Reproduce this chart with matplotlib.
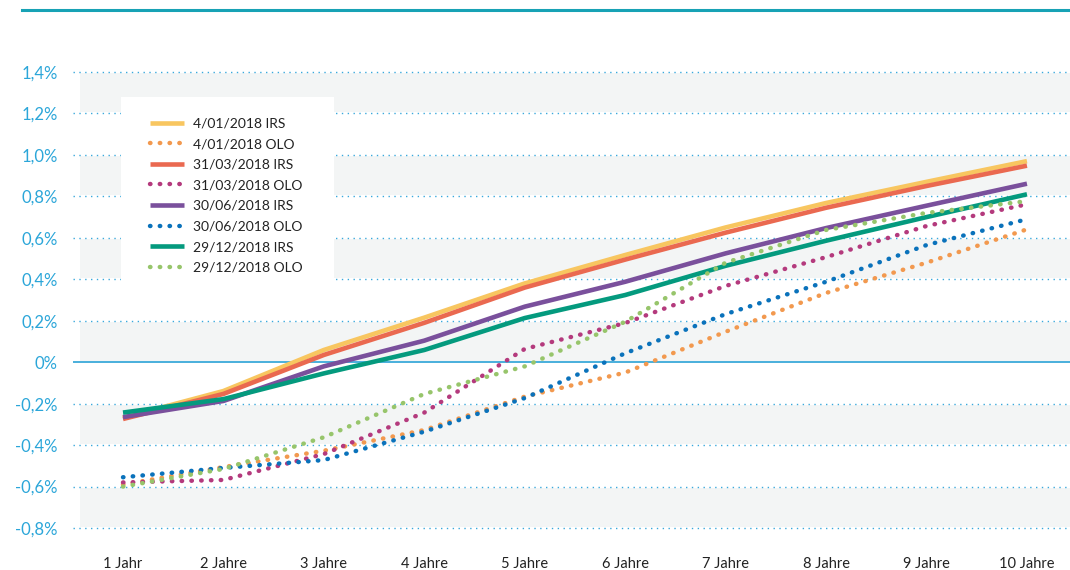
import matplotlib
matplotlib.use("Agg")
import matplotlib.pyplot as plt
from matplotlib.patches import Rectangle
from matplotlib.lines import Line2D

plt.rcParams['font.family'] = ['Lato', 'DejaVu Sans']

### DONNEES
jahre = [1, 2, 3, 4, 5, 6, 7, 8, 9, 10]
x_labels = ["1 Jahr", "2 Jahre", "3 Jahre", "4 Jahre", "5 Jahre",
            "6 Jahre", "7 Jahre", "8 Jahre", "9 Jahre", "10 Jahre"]

irs_0401 = [-0.268, -0.139, 0.059, 0.215, 0.38, 0.517, 0.65, 0.768, 0.87, 0.97]
olo_0401 = [-0.59, -0.506, -0.427, -0.327, -0.166, -0.05, 0.147, 0.334, 0.48, 0.641]
irs_3103 = [-0.274, -0.153, 0.035, 0.19, 0.36, 0.495, 0.625, 0.745, 0.85, 0.948]
olo_3103 = [-0.58, -0.568, -0.443, -0.243, 0.064, 0.189, 0.368, 0.507, 0.657, 0.762]
irs_3006 = [-0.265, -0.187, -0.02, 0.104, 0.268, 0.388, 0.525, 0.647, 0.755, 0.861]
olo_3006 = [-0.555, -0.51, -0.472, -0.335, -0.173, 0.043, 0.232, 0.388, 0.565, 0.69]
irs_2912 = [-0.243, -0.178, -0.054, 0.059, 0.213, 0.324, 0.465, 0.586, 0.70, 0.81]
olo_2912 = [-0.60, -0.515, -0.362, -0.153, -0.02, 0.195, 0.48, 0.638, 0.72, 0.777]

y_ticks = [-0.8, -0.6, -0.4, -0.2, 0, 0.2, 0.4, 0.6, 0.8, 1.0, 1.2, 1.4]
y_labels = ["-0,8%", "-0,6%", "-0,4%", "-0,2%", "0%", "0,2%", "0,4%",
            "0,6%", "0,8%", "1,0%", "1,2%", "1,4%"]
bandes = [(1.2, 1.4), (0.8, 1.0), (0.4, 0.6), (0.0, 0.2), (-0.4, -0.2), (-0.8, -0.6)]

series = [
    ("4/01/2018 IRS", irs_0401, "#f8c660", "-"),
    ("4/01/2018 OLO", olo_0401, "#f2994f", ":"),
    ("31/03/2018 IRS", irs_3103, "#ea6950", "-"),
    ("31/03/2018 OLO", olo_3103, "#b43a7d", ":"),
    ("30/06/2018 IRS", irs_3006, "#7a509c", "-"),
    ("30/06/2018 OLO", olo_3006, "#0a72bb", ":"),
    ("29/12/2018 IRS", irs_2912, "#049a7e", "-"),
    ("29/12/2018 OLO", olo_2912, "#97c56b", ":"),
]

### FIGURE
W, H = 1070, 570
fig = plt.figure(figsize=(W / 100, H / 100), dpi=100)
ax_top, ax_bot, ax_left = 60, 540, 73
ax = fig.add_axes([ax_left / W, 1 - ax_bot / H, 1 - ax_left / W, (ax_bot - ax_top) / H])

def px_to_val(y):
    return (362.2 - y) / 207.3

ax.set_ylim(px_to_val(ax_bot), px_to_val(ax_top))
x0 = 1 - 50 / 100.44
ax.set_xlim(x0, x0 + (W - ax_left) / 100.44)

for s in ax.spines.values():
    s.set_visible(False)

# bandes grises
xmin_band = (80 - ax_left) / (W - ax_left)
for lo, hi in bandes:
    ax.axhspan(lo + 0.005, hi - 0.006, xmin=xmin_band, xmax=1, color="#f3f5f5", lw=0, zorder=0)

# grille
for t in y_ticks:
    if t == 0:
        ax.axhline(0, color="#3aa9d9", lw=1.3, zorder=1)
    else:
        ax.axhline(t, color="#3aa9dc", lw=1.0, linestyle=(0, (1, 3.2)), zorder=1)

# courbes
for label, vals, col, ls in series:
    if ls == "-":
        ax.plot(jahre, vals, color=col, lw=3.3, solid_capstyle="butt", zorder=3, label=label)
    else:
        ax.plot(jahre, vals, color=col, lw=3.2, linestyle=(0, (0.1, 2.1)),
                dash_capstyle="round", zorder=3, label=label)

ax.set_yticks(y_ticks)
ax.set_yticklabels(y_labels, fontsize=12, color="#2ba6d9")
ax.set_xticks(jahre)
ax.set_xticklabels(x_labels, fontsize=10.5, color="#222222")
ax.tick_params(axis="y", length=0, pad=11)
ax.tick_params(axis="x", length=0, pad=12.5)

# cadre de la legende
fig.patches.append(Rectangle((121 / W, 1 - 282 / H), (334 - 121) / W, (282 - 97) / H,
                             transform=fig.transFigure, facecolor="white", edgecolor="none",
                             zorder=2))
leg = fig.legend(loc="upper left", bbox_to_anchor=(137 / W, 1 - 105 / H), frameon=False,
                 fontsize=10, handlelength=2.5, handletextpad=0.65, labelspacing=0.62,
                 labelcolor="#222222")
leg.set_zorder(5)

# ligne du haut
fig.add_artist(Line2D([22 / W, 1], [1 - 10 / H, 1 - 10 / H], color="#17a2b5", lw=2.2,
                      transform=fig.transFigure))

fig.savefig("out.png", dpi=100)
